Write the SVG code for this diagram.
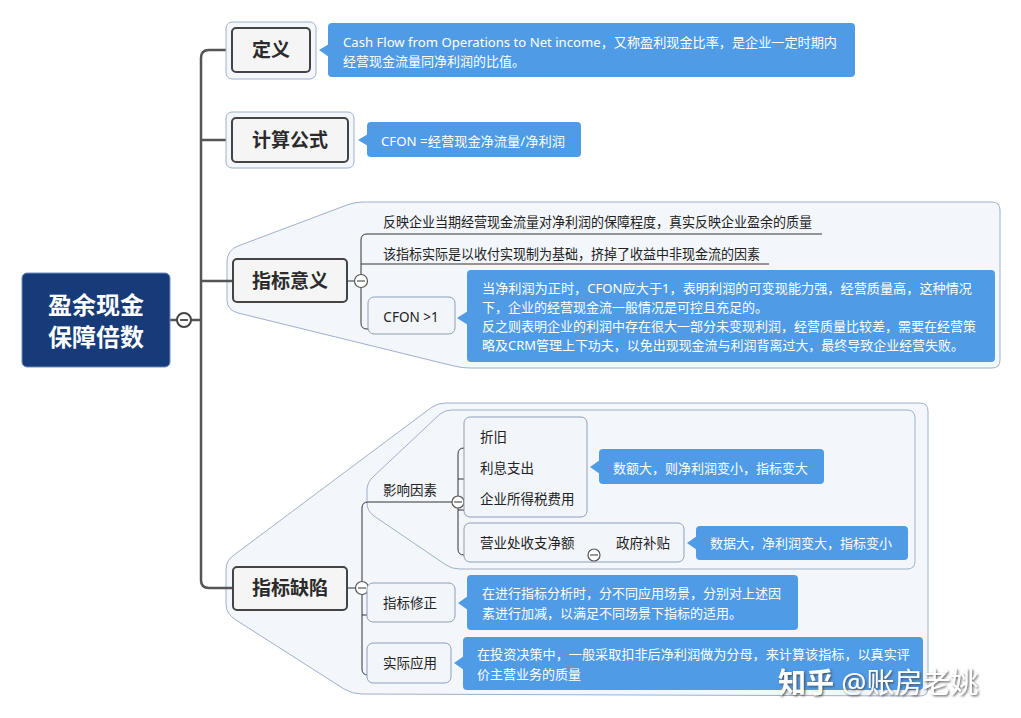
<svg xmlns="http://www.w3.org/2000/svg" width="1021" height="718" viewBox="0 0 1021 718">
<defs>
<style>
text{font-family:"Noto Sans","Noto Sans CJK SC",sans-serif}
.trunk{fill:none;stroke:#555;stroke-width:2.5}
.conn{fill:none;stroke:#333;stroke-width:1}
.bound{fill:#f3f6fb;stroke:#9fb0cc;stroke-width:1}
.node{fill:#f5f5f5;stroke:#444;stroke-width:2}
.nt{font-size:19px;font-weight:bold;fill:#2b2b2b;text-anchor:middle}
.sub{fill:#f2f5fa;stroke:#8f9fba;stroke-width:1}
.t{font-size:13.5px;fill:#222}
.call{fill:#4f9be6}
.ct{font-size:13px;fill:#fff}
.tog{fill:#fff;stroke:#555;stroke-width:1.2}
.togm{stroke:#555;stroke-width:1.2}
</style>
<filter id="sh" x="-10%" y="-30%" width="120%" height="160%">
<feDropShadow dx="1.2" dy="1.2" stdDeviation="0.8" flood-color="#444" flood-opacity="0.9"/>
</filter>
</defs>
<rect width="1021" height="718" fill="#fff"/>

<!-- boundaries -->
<g id="boundaries">
<path class="bound" d="M227 262 Q227 250 238 246 L347 205 Q355 202 363 202 L992 202 Q1000 202 1000 210 L1000 360 Q1000 368 992 368 L470 368 Q462 368 454 366 L238 313 Q227 310 227 300 Z"/>
<path class="bound" d="M226 570 Q226 560 234 555 L432 407 Q438 403 446 403 L920 403 Q928 403 928 411 L928 688 Q928 696 920 696 L362 694 Q352 694 344 689 L236 620 Q226 614 226 604 Z"/>
<path class="bound" d="M367 490 Q367 482 374 476 L440 414 Q445 410 452 410 L907 410 Q915 410 915 418 L915 561 Q915 569 907 569 L460 569 Q452 569 446 565 L374 516 Q367 511 367 503 Z"/>
</g>

<!-- connectors -->
<g id="connectors">
<path class="trunk" d="M170 320 H177 M191 320 H201 M232 50 H209 Q201 50 201 58 V580 Q201 588 209 588 H233 M201 140 H232 M201 281 H233"/>
<path class="conn" d="M347 281 H354.5 M822 234 H367 Q361 234 361 240 V323 Q361 329 367 329 H448 M361 264 H769"/>
<path class="conn" d="M347 588 H355.5 M452 502 H368 Q362 502 362 508 V669 Q362 675 368 675 H445 M362 615 H448"/>
<path class="conn" d="M515 448 H464 Q458 448 458 454 V549 Q458 555 464 555 H588 M458 479 H542 M458 510 H580 M600 555 H677"/>
</g>

<!-- root -->
<g id="root">
<rect x="22" y="273" width="148" height="94" rx="5" fill="#173a79" stroke="#6f8fc4" stroke-width="1"/>
<text x="96" y="314" font-size="24" font-weight="bold" fill="#fff" text-anchor="middle">盈余现金</text>
<text x="96" y="346" font-size="24" font-weight="bold" fill="#fff" text-anchor="middle">保障倍数</text>
<circle cx="184" cy="320" r="7" fill="#fff" stroke="#444" stroke-width="2"/>
<line x1="180" y1="320" x2="188" y2="320" stroke="#444" stroke-width="1.8"/>
</g>

<!-- 定义 -->
<g id="node-dingyi">
<rect class="bound" x="226" y="22" width="90" height="57" rx="6"/>
<rect class="node" x="232" y="28" width="78" height="44" rx="4"/>
<text class="nt" x="271" y="57">定义</text>
</g>
<g id="note-dingyi">
<rect class="call" x="328" y="23" width="527" height="54" rx="4"/>
<path class="call" d="M329 44 L319 50 L329 57 Z"/>
<text class="ct" x="343" y="47" textLength="494" lengthAdjust="spacingAndGlyphs">Cash Flow from Operations to Net income，又称盈利现金比率，是企业一定时期内</text>
<text class="ct" x="343" y="66">经营现金流量同净利润的比值。</text>
</g>

<!-- 计算公式 -->
<g id="node-formula">
<rect class="bound" x="226" y="112" width="128" height="56" rx="6"/>
<rect class="node" x="232" y="118" width="116" height="44" rx="4"/>
<text class="nt" x="290" y="147">计算公式</text>
</g>
<g id="note-formula">
<rect class="call" x="367" y="122" width="214" height="35" rx="4"/>
<path class="call" d="M368 134 L358 140 L368 146 Z"/>
<text class="ct" x="381" y="146" textLength="184" lengthAdjust="spacingAndGlyphs">CFON =经营现金净流量/净利润</text>
</g>

<!-- 指标意义 -->
<g id="node-meaning">
<rect class="node" x="233" y="259" width="114" height="43" rx="4"/>
<text class="nt" x="290" y="288">指标意义</text>
<circle class="tog" cx="361" cy="281" r="6.5"/>
<line class="togm" x1="357" y1="281" x2="365" y2="281"/>
</g>
<g id="meaning-1">
<text class="t" x="383" y="227" textLength="429" lengthAdjust="spacingAndGlyphs">反映企业当期经营现金流量对净利润的保障程度，真实反映企业盈余的质量</text>
</g>
<g id="meaning-2">
<text class="t" x="383" y="259" textLength="377" lengthAdjust="spacingAndGlyphs">该指标实际是以收付实现制为基础，挤掉了收益中非现金流的因素</text>
</g>
<g id="meaning-3">
<rect class="sub" x="368" y="297" width="87" height="37" rx="6"/>
<text class="t" x="411" y="322" text-anchor="middle">CFON &gt;1</text>
</g>
<g id="note-meaning">
<rect class="call" x="467" y="270" width="528" height="92" rx="4"/>
<path class="call" d="M468 311 L457 318 L468 325 Z"/>
<text class="ct" x="482" y="293" textLength="490" lengthAdjust="spacingAndGlyphs">当净利润为正时，CFON应大于1，表明利润的可变现能力强，经营质量高，这种情况</text>
<text class="ct" x="482" y="312">下，企业的经营现金流一般情况是可控且充足的。</text>
<text class="ct" x="482" y="331" textLength="494" lengthAdjust="spacingAndGlyphs">反之则表明企业的利润中存在很大一部分未变现利润，经营质量比较差，需要在经营策</text>
<text class="ct" x="482" y="350" textLength="482" lengthAdjust="spacingAndGlyphs">略及CRM管理上下功夫，以免出现现金流与利润背离过大，最终导致企业经营失败。</text>
</g>

<!-- 指标缺陷 -->
<g id="node-defect">
<rect class="node" x="233" y="567" width="114" height="43" rx="4"/>
<text class="nt" x="290" y="595">指标缺陷</text>
<circle class="tog" cx="362" cy="588" r="6.5"/>
<line class="togm" x1="358" y1="588" x2="366" y2="588"/>
</g>
<g id="node-factors">
<text class="t" x="383" y="495">影响因素</text>
<circle class="tog" cx="458" cy="502" r="6"/>
<line class="togm" x1="454" y1="502" x2="462" y2="502"/>
</g>
<g id="factor-group-1">
<rect class="sub" x="464" y="417" width="123" height="100" rx="6"/>
</g>
<g id="factor-zhejiu">
<text class="t" x="480" y="442">折旧</text>
</g>
<g id="factor-lixi">
<text class="t" x="480" y="473">利息支出</text>
</g>
<g id="factor-tax">
<text class="t" x="480" y="504">企业所得税费用</text>
</g>
<g id="note-factor-1">
<rect class="call" x="599" y="449" width="225" height="35" rx="4"/>
<path class="call" d="M600 460 L590 467 L600 474 Z"/>
<text class="ct" x="613" y="473">数额大，则净利润变小，指标变大</text>
</g>
<g id="factor-group-2">
<rect class="sub" x="464" y="523" width="220" height="39" rx="6"/>
</g>
<g id="factor-yingye">
<text class="t" x="480" y="548">营业处收支净额</text>
<circle class="tog" cx="594" cy="555" r="6"/>
<line class="togm" x1="590" y1="555" x2="598" y2="555"/>
</g>
<g id="factor-butie">
<text class="t" x="616" y="548">政府补贴</text>
</g>
<g id="note-factor-2">
<rect class="call" x="696" y="526" width="212" height="34" rx="4"/>
<path class="call" d="M697 536 L687 543 L697 550 Z"/>
<text class="ct" x="710" y="548">数据大，净利润变大，指标变小</text>
</g>
<g id="node-correct">
<rect class="sub" x="367" y="583" width="88" height="39" rx="6"/>
<text class="t" x="383" y="608">指标修正</text>
</g>
<g id="note-correct">
<rect class="call" x="467" y="575" width="331" height="55" rx="4"/>
<path class="call" d="M468 596 L458 603 L468 610 Z"/>
<text class="ct" x="482" y="598">在进行指标分析时，分不同应用场景，分别对上述因</text>
<text class="ct" x="482" y="618">素进行加减，以满足不同场景下指标的适用。</text>
</g>
<g id="node-apply">
<rect class="sub" x="367" y="643" width="84" height="40" rx="6"/>
<text class="t" x="383" y="668">实际应用</text>
</g>
<g id="note-apply">
<rect class="call" x="463" y="637" width="460" height="53" rx="4"/>
<path class="call" d="M464 656 L454 663 L464 670 Z"/>
<text class="ct" x="477" y="659" textLength="433" lengthAdjust="spacingAndGlyphs">在投资决策中，一般采取扣非后净利润做为分母，来计算该指标，以真实评</text>
<text class="ct" x="477" y="679">价主营业务的质量</text>
</g>

<g id="watermark">
<text x="778" y="693" font-size="28" fill="#fff" filter="url(#sh)"><tspan font-weight="bold">知乎</tspan> @账房老姚</text>
</g>
</svg>
